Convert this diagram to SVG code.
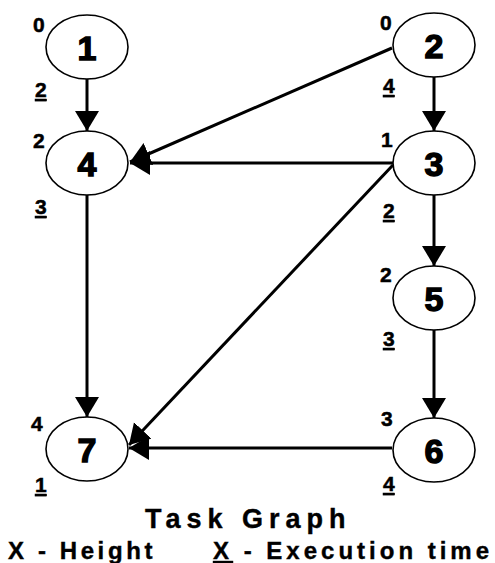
<svg xmlns="http://www.w3.org/2000/svg" width="495" height="563" viewBox="0 0 495 563">
  <style>
    .node ellipse { fill: #fff; stroke: #000; stroke-width: 1.6; }
    .id { font-family: "Liberation Sans", Arial, sans-serif; font-weight: bold; font-size: 34px; text-anchor: middle; fill: #000; stroke: #000; stroke-width: 1.4; }
    .h { font-family: "Liberation Sans", Arial, sans-serif; font-weight: bold; font-size: 21px; fill: #000; stroke: #000; stroke-width: 0.5; }
    .t { font-family: "Liberation Sans", Arial, sans-serif; font-weight: bold; font-size: 21px; fill: #000; stroke: #000; stroke-width: 0.5; text-decoration: underline; }
    .edges line { stroke: #000; stroke-width: 3; marker-end: url(#arrow); }
    .cap { font-family: "Liberation Sans", Arial, sans-serif; font-weight: bold; fill: #000; stroke: #000; stroke-width: 0.4; }
  </style>
  <defs>
    <marker id="arrow" markerUnits="userSpaceOnUse" markerWidth="22" markerHeight="26" refX="20" refY="12" orient="auto">
      <path d="M0,0 L20,12 L0,24 z" fill="#000"/>
    </marker>
  </defs>
  <rect width="495" height="563" fill="#fff"/>

  <g id="edges" class="edges">
    <line x1="87" y1="79" x2="87" y2="131"/>
    <line x1="392" y1="48" x2="130" y2="162"/>
    <line x1="393" y1="163" x2="130" y2="163"/>
    <line x1="434" y1="77" x2="434" y2="131"/>
    <line x1="393" y1="165" x2="129" y2="445"/>
    <line x1="87" y1="195" x2="87" y2="417"/>
    <line x1="434" y1="195" x2="434" y2="266"/>
    <line x1="434" y1="330" x2="434" y2="418"/>
    <line x1="392" y1="448" x2="129" y2="448"/>
  </g>

  <g id="node1" class="node">
    <ellipse cx="87" cy="47" rx="41" ry="32"/>
    <text class="id" x="87" y="60">1</text>
    <text class="h" x="33" y="32">0</text>
    <text class="t" x="35" y="97">2</text>
  </g>
  <g id="node2" class="node">
    <ellipse cx="434" cy="45" rx="41" ry="32"/>
    <text class="id" x="434" y="58">2</text>
    <text class="h" x="380" y="30">0</text>
    <text class="t" x="383" y="93">4</text>
  </g>
  <g id="node3" class="node">
    <ellipse cx="434" cy="163" rx="41" ry="32"/>
    <text class="id" x="434" y="176">3</text>
    <text class="h" x="381" y="147">1</text>
    <text class="t" x="383" y="218">2</text>
  </g>
  <g id="node4" class="node">
    <ellipse cx="87" cy="163" rx="41" ry="32"/>
    <text class="id" x="87" y="176">4</text>
    <text class="h" x="33" y="148">2</text>
    <text class="t" x="35" y="214">3</text>
  </g>
  <g id="node5" class="node">
    <ellipse cx="434" cy="298" rx="41" ry="32"/>
    <text class="id" x="434" y="311">5</text>
    <text class="h" x="380" y="282">2</text>
    <text class="t" x="383" y="346">3</text>
  </g>
  <g id="node6" class="node">
    <ellipse cx="434" cy="450" rx="41" ry="32"/>
    <text class="id" x="434" y="463">6</text>
    <text class="h" x="381" y="426">3</text>
    <text class="t" x="383" y="491">4</text>
  </g>
  <g id="node7" class="node">
    <ellipse cx="87" cy="449" rx="41" ry="32"/>
    <text class="id" x="87" y="462">7</text>
    <text class="h" x="31" y="431">4</text>
    <text class="t" x="35" y="492">1</text>
  </g>

  <g id="caption">
    <text class="cap" x="145" y="528" font-size="27" letter-spacing="6">Task Graph</text>
    <text class="cap" x="8" y="559" font-size="24" letter-spacing="3.6">X - Height</text>
    <text class="cap" x="213" y="559" font-size="24" letter-spacing="4"><tspan text-decoration="underline">X</tspan> - Execution time</text>
  </g>
</svg>
